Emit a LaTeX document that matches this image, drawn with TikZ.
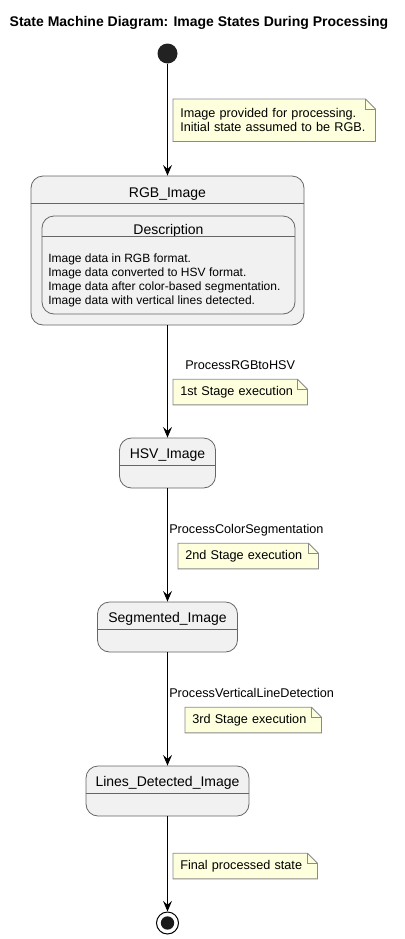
\documentclass[tikz,border=0pt]{standalone}
\usepackage{fontspec}
\setmainfont{Liberation Sans}
\usepackage{xcolor}
\usepackage{tikz}
\usetikzlibrary{arrows.meta,positioning}
\definecolor{statefill}{HTML}{F1F1F1}
\definecolor{stateline}{HTML}{666666}
\definecolor{notefill}{HTML}{FEFFDD}
\definecolor{noteline}{HTML}{8A8A8A}
\definecolor{dotfill}{HTML}{222222}
% folded corner of a note
\newcommand{\notefold}[1]{%
  \fill[white] ([xshift=-7.5pt]#1.north east) -- (#1.north east) -- ([yshift=-7.5pt]#1.north east) -- cycle;
  \draw[noteline,line width=0.6pt] (#1.north west) -- ([xshift=-7.5pt]#1.north east) -- ([yshift=-7.5pt]#1.north east) -- (#1.south east) -- (#1.south west) -- cycle;
  \draw[noteline,line width=0.6pt] ([xshift=-7.5pt]#1.north east) |- ([yshift=-7.5pt]#1.north east);}

\begin{document}
\begin{tikzpicture}[x=0.75pt,y=-0.75pt,
  statebox/.style={draw=stateline,fill=statefill,line width=0.6pt,rounded corners=9pt,inner sep=0pt},
  statename/.style={font=\fontsize{10.5}{12.6}\selectfont,inner sep=0pt,anchor=base},
  notebox/.style={fill=notefill,anchor=north west,inner xsep=5.25pt,inner ysep=0pt,minimum height=18.75pt,text width=#1,align=left,font=\fontsize{9.5}{10.5}\selectfont},
  translabel/.style={font=\fontsize{9.5}{11.4}\selectfont,inner sep=0pt,anchor=base west},
  trans/.style={-{Stealth[length=8pt,width=6.75pt,inset=3pt]},line width=0.75pt}]
    % page
    \fill[white] (0,0) rectangle (404,939);
    \useasboundingbox (0,0) rectangle (404,939);
    \node[font=\bfseries\fontsize{10.5}{12.6}\selectfont,inner sep=0pt,anchor=base] (title) at (199,26) {State Machine Diagram: Image States During Processing};

    % states
    \node[circle,fill=dotfill,minimum size=15pt,inner sep=0pt] (start) at (167.5,53.5) {};
    \node[statebox,minimum width=204.75pt,minimum height=111.75pt] (rgb) at (167.5,250.5) {};
    \node[statename] (rgbname) at (167.5,197) {RGB\_Image};
    \draw[stateline,line width=0.6pt] ([yshift=-21pt]rgb.north west) -- ([yshift=-21pt]rgb.north east);
    \node[statebox,minimum width=189.75pt,minimum height=73.5pt] (desc) at (168.5,265) {};
    \node[statename] (descname) at (168.5,234) {Description};
    \draw[stateline,line width=0.6pt] ([yshift=-15.75pt]desc.north west) -- ([yshift=-15.75pt]desc.north east);
    \node[font=\fontsize{9}{10.5}\selectfont,inner sep=0pt,anchor=west,align=left] (desctext) at (48,280) {Image data in RGB format.\\Image data converted to HSV format.\\Image data after color-based segmentation.\\Image data with vertical lines detected.};

    \node[statebox,minimum width=72pt,minimum height=37.5pt] (hsv) at (167.5,463) {};
    \node[statename] (hsvname) at (167.5,458.5) {HSV\_Image};
    \draw[stateline,line width=0.6pt] ([yshift=-21pt]hsv.north west) -- ([yshift=-21pt]hsv.north east);

    \node[statebox,minimum width=105pt,minimum height=37.5pt] (seg) at (167.5,627) {};
    \node[statename] (segname) at (167.5,622.5) {Segmented\_Image};
    \draw[stateline,line width=0.6pt] ([yshift=-21pt]seg.north west) -- ([yshift=-21pt]seg.north east);

    \node[statebox,minimum width=122.25pt,minimum height=37.5pt] (lines) at (167.5,791) {};
    \node[statename] (linesname) at (167.5,786.5) {Lines\_Detected\_Image};
    \draw[stateline,line width=0.6pt] ([yshift=-21pt]lines.north west) -- ([yshift=-21pt]lines.north east);

    \node[circle,draw,line width=0.75pt,fill=white,minimum size=16.5pt,inner sep=0pt] (final) at (167.5,923) {};
    \fill[black!90] (final) circle (5pt);

    % transitions
    \draw[trans] (start) -- (rgb);
    \draw[trans] (rgb) -- (hsv);
    \draw[trans] (hsv) -- (seg);
    \draw[trans] (seg) -- (lines);
    \draw[trans] (lines) -- (final);
    \node[translabel] (lblhsv) at (185,369.5) {ProcessRGBtoHSV};
    \node[translabel] (lblseg) at (169,533.5) {ProcessColorSegmentation};
    \node[translabel] (lbllines) at (169,697.5) {ProcessVerticalLineDetection};

    % notes
    \node[notebox=141pt,minimum height=31.5pt] (note1) at (173,99) {Image provided for processing.\\Initial state assumed to be RGB.};
    \notefold{note1}
    \node[notebox=90pt,yshift=-1pt] (note2) at (173,378) {1st Stage execution};
    \notefold{note2}
    \node[notebox=94.5pt,yshift=-1pt] (note3) at (178,542) {2nd Stage execution};
    \notefold{note3}
    \node[notebox=91.5pt,yshift=-1pt] (note4) at (185,706) {3rd Stage execution};
    \notefold{note4}
    \node[notebox=97.5pt,yshift=-1pt] (note5) at (173,852) {Final processed state};
    \notefold{note5}
\end{tikzpicture}
\end{document}
